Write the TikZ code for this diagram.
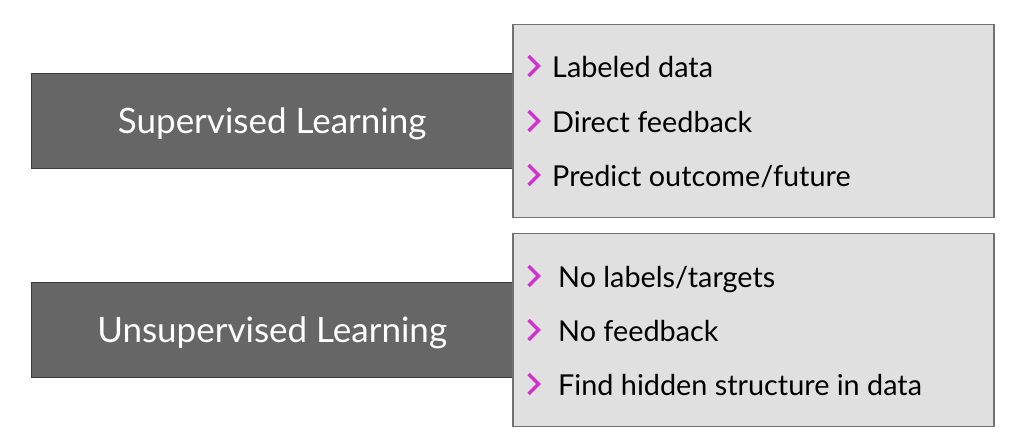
\documentclass[tikz,border=0pt]{standalone}
\usepackage{fontspec}
\setmainfont{Lato}
\usetikzlibrary{positioning}
\definecolor{slate}{HTML}{666666}
\definecolor{slateedge}{HTML}{3A3A3A}
\definecolor{panel}{HTML}{E0E0E0}
\definecolor{paneledge}{HTML}{727272}
\definecolor{pink}{HTML}{D22FCF}
\tikzset{headbox/.style={draw=slateedge,fill=slate,text=white,font=\fontsize{35}{42}\selectfont,text height=33pt,text depth=8pt,minimum width=482pt,minimum height=95pt,inner sep=0pt,anchor=north west},panelbox/.style={draw=paneledge,line width=1.2pt,fill=panel,minimum width=481pt,minimum height=193pt,inner sep=0pt},item/.style={font=\fontsize{28.8}{34}\selectfont,anchor=base west,inner sep=0pt},chev/.style={pink,line width=3.4pt}}

\begin{document}
\begin{tikzpicture}[x=1pt,y=-1pt]
\useasboundingbox (0,0) rectangle (1012,439);
\node[headbox] (sup) at (31,73) {Supervised Learning};
\node[headbox] (unsup) at (31,282) {Unsupervised Learning};
\node[panelbox,right=-1pt of sup] (suppanel) {};
\node[panelbox,right=-1pt of unsup] (unsuppanel) {};
% bullets of the two panels
\foreach \y/\t [count=\i] in {77/{Labeled data},132/{Direct feedback},186/{Predict outcome/future}}{
  \node[item] (supitem\i) at (552,\y) {\t};
  \draw[chev] (528.5,\y-21) -- (538.5,\y-11) -- (528.5,\y-1);
}
\foreach \y/\t [count=\i] in {287/{No labels/targets},341/{No feedback},395/{Find hidden structure in data}}{
  \node[item] (unsupitem\i) at (558,\y) {\t};
  \draw[chev] (528.5,\y-21) -- (538.5,\y-11) -- (528.5,\y-1);
}
\end{tikzpicture}
\end{document}
